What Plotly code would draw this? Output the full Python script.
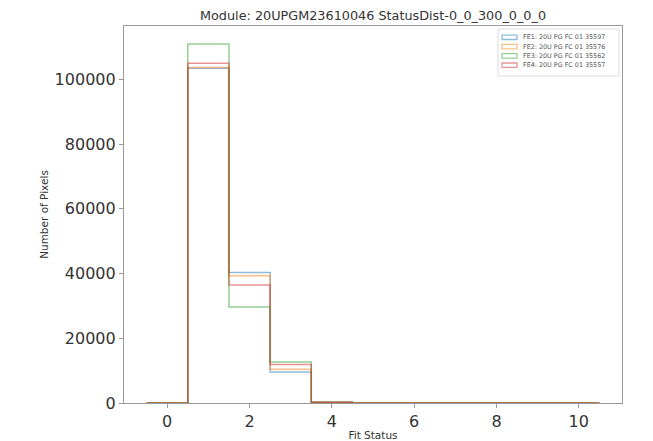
import plotly.graph_objects as go

status = [0, 1, 2, 3, 4, 5, 6, 7, 8, 9, 10]
labels = ["FE1: 20U PG FC 01 35597", "FE2: 20U PG FC 01 35576",
          "FE3: 20U PG FC 01 35562", "FE4: 20U PG FC 01 35557"]
fe1 = [0, 103450, 40300, 9600, 250, 0, 0, 0, 0, 0, 0]
fe2 = [0, 103650, 39300, 10400, 250, 0, 0, 0, 0, 0, 0]
fe3 = [0, 110950, 29700, 12700, 250, 0, 0, 0, 0, 0, 0]
fe4 = [0, 104950, 36500, 11900, 250, 0, 0, 0, 0, 0, 0]
colors = ["rgba(31,119,180,0.5)", "rgba(255,127,14,0.5)",
          "rgba(44,160,44,0.5)", "rgba(214,39,40,0.5)"]
title = "Module: 20UPGM23610046 StatusDist-0_0_300_0_0_0"

W, H = 653, 441
ML, MR, MT, MB = 124, 31, 26, 38
PW, PH = W - ML - MR, H - MT - MB

def px(x):
    return (x - ML) / PW

def py(y):
    return 1 - (y - MT) / PH

fig = go.Figure()
for counts, lab, col in zip([fe1, fe2, fe3, fe4], labels, colors):
    xs = [status[0] - 0.5] + [s - 0.5 for s in status] + [status[-1] + 0.5, status[-1] + 0.5]
    ys = [0] + counts + [counts[-1], 0]
    fig.add_trace(go.Scatter(x=xs, y=ys, mode="lines", line_shape="hv",
                             line=dict(color=col, width=1.5), name=lab,
                             showlegend=False, hoverinfo="skip"))

ymax = max(max(fe1), max(fe2), max(fe3), max(fe4)) * 1.05
xlo = status[0] - 0.5
xhi = status[-1] + 0.5
pad = (xhi - xlo) * 0.05

# legend frame (decoration)
fig.add_shape(type="rect", xref="paper", yref="paper",
              x0=px(498), x1=px(619), y0=py(76), y1=py(29),
              line=dict(color="#dddddd", width=1), fillcolor="white", layer="above")
for i, (lab, col) in enumerate(zip(labels, colors)):
    yc = 37.3 + 9.3 * i
    fig.add_shape(type="rect", xref="paper", yref="paper",
                  x0=px(502), x1=px(517), y0=py(yc + 2.2), y1=py(yc - 2.2),
                  line=dict(color=col, width=1.3), fillcolor="rgba(0,0,0,0)", layer="above")
    fig.add_annotation(xref="paper", yref="paper", x=px(521), y=py(yc),
                       xanchor="left", yanchor="middle", text=lab, showarrow=False,
                       font=dict(family="DejaVu Sans", size=6.4, color="#555"))

fig.update_layout(
    width=W, height=H,
    margin=dict(l=ML, r=MR, t=MT, b=MB),
    paper_bgcolor="white", plot_bgcolor="white",
    font=dict(family="DejaVu Sans", color="#333"),
    title=dict(text=title, x=0.5 * (1 - (ML + MR) / W) + ML / W,
               xanchor="center", y=1 - 16 / H, yanchor="middle",
               font=dict(size=12.8, color="#333")),
    xaxis=dict(range=[xlo - pad, xhi + pad], tickvals=[0, 2, 4, 6, 8, 10],
               automargin=False,
               showgrid=False, zeroline=False, showline=True, linecolor="#999",
               linewidth=1.2, mirror=True, ticks="outside", ticklen=4, tickcolor="#999",
               tickfont=dict(size=16, color="#333"),
               title=dict(text="Fit Status", font=dict(size=10.5, color="#333"), standoff=1)),
    yaxis=dict(range=[0, ymax], tickvals=[0, 20000, 40000, 60000, 80000, 100000],
               tickformat="d", automargin=False,
               showgrid=False, zeroline=False, showline=True, linecolor="#999",
               linewidth=1.2, mirror=True, ticks="outside", ticklen=4, tickcolor="#999",
               tickfont=dict(size=16, color="#333"),
               title=dict(text="Number of Pixels", font=dict(size=10.5, color="#333"), standoff=3)),
)

fig.write_html("out.html")
